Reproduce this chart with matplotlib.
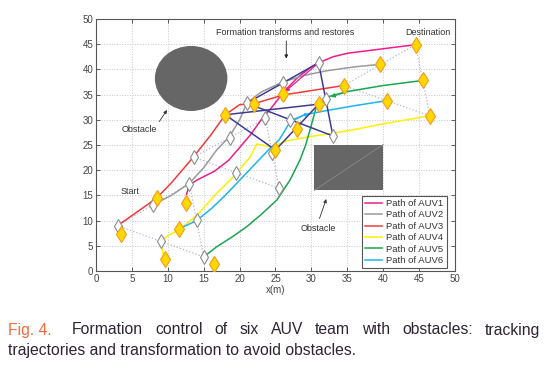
import matplotlib
matplotlib.use("Agg")
import matplotlib.pyplot as plt
from matplotlib.patches import Ellipse, Rectangle

plt.rcParams['font.family'] = ['Liberation Sans', 'DejaVu Sans']

# ---------------- data ----------------
auv1_x = [12.6, 13.0, 14.0, 16.5, 18.5, 20.0, 21.5, 23.0, 24.5, 26.0, 28.0, 30.0, 31.0, 33.0, 35.0, 40.0, 44.5]
auv1_y = [15.2, 17.0, 18.0, 19.8, 22.0, 24.5, 27.0, 30.0, 32.5, 35.3, 38.3, 40.5, 41.3, 42.5, 43.2, 44.1, 44.9]

auv2_x = [8.0, 10.5, 13.0, 15.0, 16.8, 18.6, 20.0, 21.0, 23.0, 26.0, 29.0, 32.0, 36.0, 39.5]
auv2_y = [13.2, 15.0, 17.4, 20.5, 24.0, 26.7, 30.0, 33.3, 35.5, 37.5, 38.8, 39.7, 40.5, 41.0]

auv3_x = [3.0, 4.5, 6.5, 8.4, 10.5, 13.5, 16.0, 18.0, 20.0, 22.0, 26.0, 30.0, 34.5]
auv3_y = [9.0, 10.5, 12.5, 14.4, 17.5, 22.5, 27.0, 31.0, 33.0, 33.2, 34.9, 35.8, 36.8]

auv4_x = [9.5, 9.0, 10.0, 11.7, 14.0, 16.8, 19.0, 21.4, 22.4, 24.5, 26.5, 30.0, 35.0, 40.0, 46.5]
auv4_y = [2.5, 5.8, 7.0, 8.3, 11.0, 15.4, 18.5, 22.5, 25.2, 24.6, 25.8, 26.7, 27.8, 29.2, 30.8]

auv5_x = [15.0, 16.8, 19.0, 21.0, 23.0, 25.2, 27.0, 28.4, 29.2, 30.0, 30.7, 32.4, 35.0, 40.0, 45.5]
auv5_y = [2.8, 4.8, 6.8, 8.8, 11.2, 14.1, 18.0, 22.0, 25.0, 29.0, 32.6, 34.6, 35.6, 36.8, 37.8]

auv6_x = [11.5, 14.0, 16.0, 18.0, 20.0, 22.0, 24.0, 25.5, 27.0, 29.0, 32.0, 36.0, 40.5]
auv6_y = [8.3, 10.0, 12.3, 15.0, 18.0, 21.0, 24.0, 26.0, 29.5, 31.0, 31.8, 32.8, 33.8]

labels = ['Path of AUV1', 'Path of AUV2', 'Path of AUV3',
          'Path of AUV4', 'Path of AUV5', 'Path of AUV6']
colors = ['#ee1c8c', '#9a9a9a', '#f03a3a', '#fff000', '#1aa64f', '#1eb4ee']

# formation triangles (vertices); midpoints are drawn as white diamonds too
tri_start_x = [3.0, 15.0, 13.0]
tri_start_y = [9.0, 2.8, 17.3]
tri_mid_x = [13.6, 25.5, 23.6]
tri_mid_y = [22.6, 16.4, 30.3]
tri_trans_x = [21.0, 33.0, 31.0]
tri_trans_y = [33.3, 26.8, 41.3]
tri_final_x = [34.5, 46.5, 44.5]
tri_final_y = [36.8, 30.8, 44.9]

# actual AUV positions (yellow diamonds)
yd_x = [3.5, 8.5, 12.5, 11.5, 9.6, 16.5,
        18.0, 22.0, 26.0, 31.0, 28.0, 25.0,
        34.5, 39.5, 44.5, 45.5, 40.5, 46.5]
yd_y = [7.4, 14.4, 13.5, 8.3, 2.4, 1.4,
        31.0, 33.1, 35.1, 33.1, 28.2, 24.0,
        36.8, 41.0, 44.9, 37.8, 33.8, 30.8]

# transient formation (navy)
navy_x = [18.0, 25.0, 31.0]
navy_y = [31.0, 24.0, 33.1]

caption_fig = 'Fig. 4.'
caption_l1 = 'Formation control of six AUV team with obstacles: tracking'
caption_l2 = 'trajectories and transformation to avoid obstacles.'

# ---------------- figure ----------------
W, H = 547, 371
fig = plt.figure(figsize=(W / 100, H / 100), dpi=100)
ax = fig.add_axes([0.1755, 0.2695, 0.6563, 0.6793])

dot_color = '#b4b4dc'
navy = '#3c3c96'


def closed(xs, ys):
    return list(xs) + [xs[0]], list(ys) + [ys[0]]


def with_mid(xs, ys):
    px, py = [], []
    for i in range(3):
        j = (i + 1) % 3
        px += [xs[i], (xs[i] + xs[j]) / 2]
        py += [ys[i], (ys[i] + ys[j]) / 2]
    return px, py


# obstacles
ax.add_patch(Ellipse((13.25, 38.2), 10.1, 12.9, facecolor='#666666', edgecolor='none', zorder=1))
ax.add_patch(Rectangle((30.4, 16.0), 9.6, 9.1, facecolor='#666666', edgecolor='none', zorder=1))
ax.plot([30.4, 40.0], [16.0, 25.1], color='#8a8a8a', lw=0.6, zorder=1.1)

# dotted formations
for tx, ty in [(tri_start_x, tri_start_y), (tri_mid_x, tri_mid_y), (tri_final_x, tri_final_y)]:
    cx, cy = closed(tx, ty)
    ax.plot(cx, cy, color=dot_color, lw=0.9, ls=':', zorder=2)

# paths
paths = [(auv1_x, auv1_y), (auv2_x, auv2_y), (auv3_x, auv3_y),
         (auv4_x, auv4_y), (auv5_x, auv5_y), (auv6_x, auv6_y)]
handles = []
for (px, py), c, lab in zip(paths, colors, labels):
    h, = ax.plot(px, py, color=c, lw=1.1, label=lab, zorder=3, solid_joinstyle='round')
    handles.append(h)

# navy formation lines
cx, cy = closed(tri_trans_x, tri_trans_y)
ax.plot(cx, cy, color=navy, lw=1.1, zorder=4)
cx, cy = closed(navy_x, navy_y)
ax.plot(cx, cy, color=navy, lw=1.1, zorder=4)

# small arrows showing transformation
ax.annotate('', xy=(26.0, 35.2), xytext=(31.0, 41.3),
            arrowprops=dict(arrowstyle='-|>', color=colors[0], lw=0.9, mutation_scale=6), zorder=4)
ax.annotate('', xy=(32.3, 34.4), xytext=(35.0, 35.6),
            arrowprops=dict(arrowstyle='-|>', color=colors[4], lw=0.9, mutation_scale=6), zorder=4)
ax.annotate('', xy=(30.0, 31.4), xytext=(27.2, 30.0),
            arrowprops=dict(arrowstyle='-|>', color=colors[5], lw=0.8, mutation_scale=5), zorder=4)

# white diamonds (desired formation points)
for tx, ty in [(tri_start_x, tri_start_y), (tri_mid_x, tri_mid_y), (tri_trans_x, tri_trans_y)]:
    mx, my = with_mid(tx, ty)
    ax.plot(mx, my, ls='none', marker='d', ms=7, mfc='white', mec='#8c8c8c', mew=0.8, zorder=5)

# yellow diamonds (AUV positions)
ax.plot(yd_x, yd_y, ls='none', marker='d', ms=8, mfc='#ffd800', mec='#f59a1e', mew=0.8, zorder=6)

# annotations
tc = '#333333'
ax.text(26.3, 47.3, 'Formation transforms and restores', fontsize=6.5, color=tc, ha='center', va='center', zorder=7)
ax.annotate('', xy=(26.5, 41.6), xytext=(26.5, 46.2),
            arrowprops=dict(arrowstyle='-|>', color='#222222', lw=0.6, mutation_scale=5))
ax.text(46.2, 47.3, 'Destination', fontsize=6.5, color=tc, ha='center', va='center')
ax.text(6.1, 28.0, 'Obstacle', fontsize=6.5, color=tc, ha='center', va='center')
ax.annotate('', xy=(10.1, 32.4), xytext=(8.6, 29.2),
            arrowprops=dict(arrowstyle='-|>', color='#333333', lw=0.6, mutation_scale=5))
ax.text(4.7, 15.7, 'Start', fontsize=6.5, color=tc, ha='center', va='center')
ax.text(30.9, 8.4, 'Obstacle', fontsize=6.5, color=tc, ha='center', va='center')
ax.annotate('', xy=(32.2, 14.8), xytext=(31.0, 9.9),
            arrowprops=dict(arrowstyle='-|>', color='#333333', lw=0.6, mutation_scale=5))

# axes styling
ax.set_xlim(0, 50)
ax.set_ylim(0, 50)
ax.set_xticks(range(0, 51, 5))
ax.set_yticks(range(0, 51, 5))
ax.grid(True, color='#c8c8c8', ls=':', lw=0.7)
ax.set_axisbelow(True)
ax.tick_params(direction='in', length=3, width=0.6, labelsize=7, colors='#444444',
               top=True, right=True, pad=2)
for s in ax.spines.values():
    s.set_color('#555555')
    s.set_linewidth(0.8)
ax.set_xlabel('x(m)', fontsize=7, color='#444444', labelpad=1)

leg = ax.legend(handles=handles, loc='lower right', bbox_to_anchor=(0.977, 0.011),
                fontsize=6.8, frameon=True, fancybox=False, framealpha=1,
                edgecolor='#555555', handlelength=1.8, handletextpad=0.4,
                labelspacing=0.25, borderpad=0.35, borderaxespad=0)
leg.get_frame().set_linewidth(0.8)
for t in leg.get_texts():
    t.set_color('#333333')

# caption (line 1 justified between x=72 and x=540 px)
cap_fs = 11.3
cap_col = '#2e2433'
y1 = 1 - 330 / H
y2 = 1 - 350 / H
fig.text(8 / W, y1, caption_fig, fontsize=cap_fs, color='#f26b3a', ha='left', va='center')
renderer = fig.canvas.get_renderer()
words = caption_l1.split(' ')
wtexts = [fig.text(0, y1, w, fontsize=cap_fs, color=cap_col, ha='left', va='center') for w in words]
widths = [t.get_window_extent(renderer).width for t in wtexts]
x_left, x_right = 72.0, 540.0
gap = (x_right - x_left - sum(widths)) / (len(words) - 1)
xpos = x_left
for t, w in zip(wtexts, widths):
    t.set_x(xpos / W)
    xpos += w + gap
fig.text(8 / W, y2, caption_l2, fontsize=cap_fs, color=cap_col, ha='left', va='center')

fig.savefig('out.png', dpi=100)
